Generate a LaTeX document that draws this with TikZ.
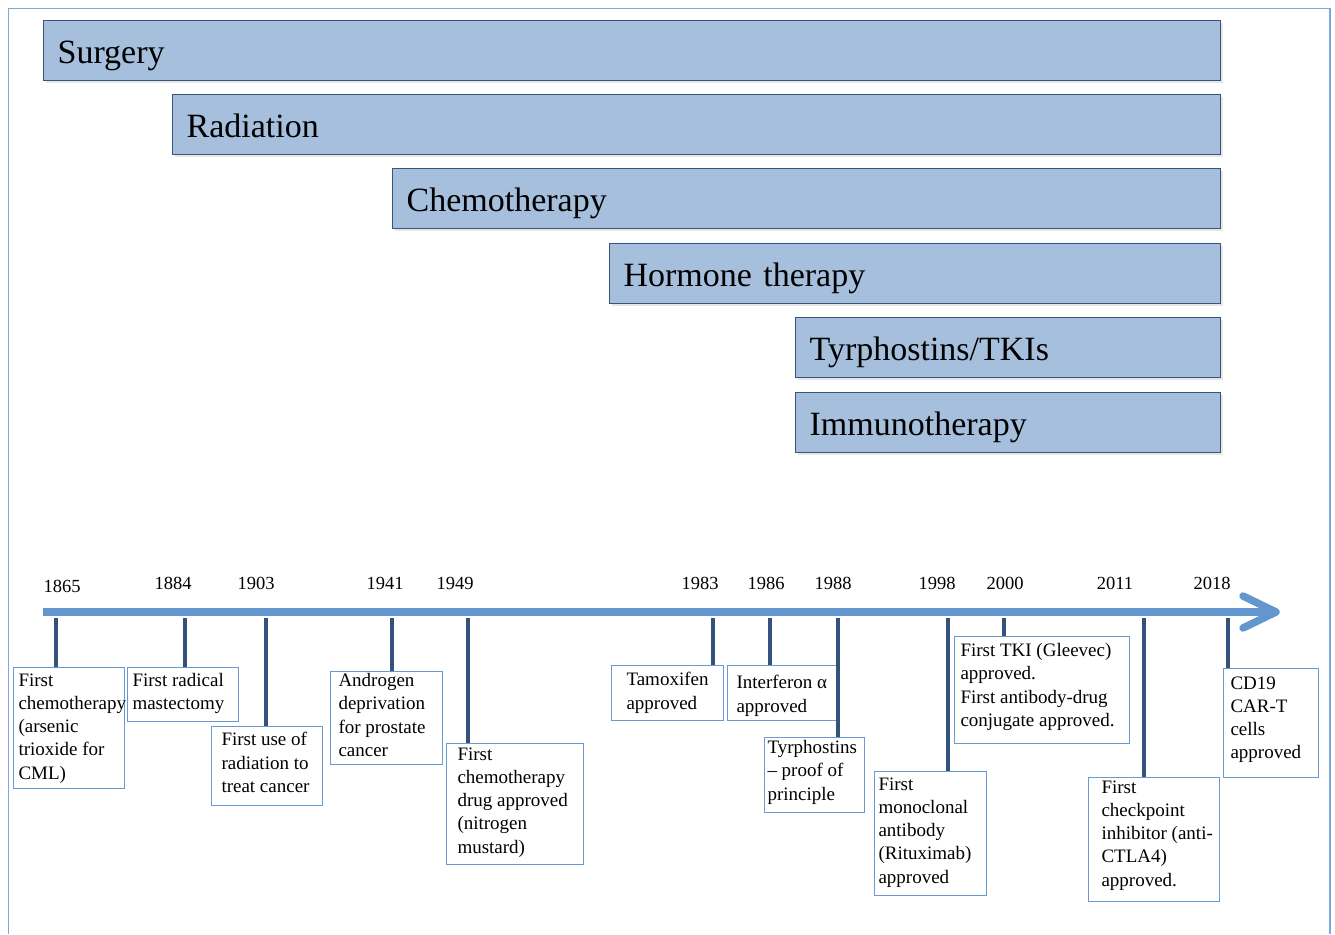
\documentclass[tikz,border=0pt]{standalone}
\usepackage{fontspec}
\setmainfont{Liberation Serif}
\usetikzlibrary{shadows}
\definecolor{barfill}{RGB}{166,191,221}
\definecolor{barline}{RGB}{56,84,122}
\definecolor{axisblue}{RGB}{98,150,204}
\definecolor{tickblue}{RGB}{52,82,124}
\definecolor{boxline}{RGB}{105,155,210}
\definecolor{framecol}{RGB}{125,168,216}
% event text: width, height, left inset, top inset, lines
\newcommand{\evtext}[5]{\parbox[t][#2pt][t]{#1pt}{\raggedright\leftskip=#3pt\relax\vspace*{#4pt}#5}}

\begin{document}
\begin{tikzpicture}[x=1pt,y=-1pt,
  therapy/.style={draw=barline,line width=1.2pt,fill=barfill,anchor=north west,
    minimum height=60pt,inner xsep=14pt,inner ysep=0pt,align=left,
    text height=30pt,text depth=4pt,
    font=\fontsize{34}{40}\selectfont,
    drop shadow={opacity=0.2,shadow xshift=2pt,shadow yshift=-2pt}},
  yearlbl/.style={font=\fontsize{18.5}{22}\selectfont,inner sep=0pt},
  evbox/.style={draw=boxline,line width=1pt,fill=white,anchor=north west,
    inner sep=0pt,font=\fontsize{19}{23.3}\selectfont},
  tick/.style={tickblue,line width=4pt},
  axis/.style={axisblue,line width=7.5pt}]
 \useasboundingbox (0,0) rectangle (1335,934);
 \draw[framecol,line width=1.5pt] (8.5,934) -- (8.5,8.5) -- (1330,8.5) -- (1330,934);
 % therapy bars
 \node[therapy,text width=1149pt] (surgery) at (43,20) {Surgery};
 \node[therapy,text width=1020pt] (radiation) at (172,94) {Radiation};
 \node[therapy,text width=800pt] (chemo) at (392,168) {Chemotherapy};
 \node[therapy,text width=583pt] (hormone) at (609,243) {Hormone therapy};
 \node[therapy,text width=397pt] (tki) at (795,317) {Tyrphostins/TKIs};
 \node[therapy,text width=397pt] (immuno) at (795,392) {Immunotherapy};
 % time axis
 \coordinate (axstart) at (43,612);
 \coordinate (axend) at (1270,612);
 \coordinate (axtip) at (1276,612);
 \draw[axis] (axstart) -- (axend);
 \draw[axis,line cap=round,line join=round]
   ([shift={(-33,-16)}]axtip) -- (axtip) -- ([shift={(-33,16)}]axtip);
 % events
 \node[evbox] (ev1865) at (13,667) {\evtext{111}{121}{5}{6}{First\\chemotherapy\\(arsenic\\trioxide for\\CML)}};
 \node[evbox] (ev1884) at (127,667) {\evtext{111}{54}{5}{6}{First radical\\mastectomy}};
 \node[evbox] (ev1903) at (211,726) {\evtext{111}{79}{10}{6}{First use of\\radiation to\\treat cancer}};
 \node[evbox] (ev1941) at (330,671) {\evtext{112}{93}{8}{2}{Androgen\\deprivation\\for prostate\\cancer}};
 \node[evbox] (ev1949) at (446,743) {\evtext{137}{121}{11}{4}{First\\chemotherapy\\drug approved\\(nitrogen\\mustard)}};
 \node[evbox] (ev1983) at (611,665) {\evtext{112}{55}{15}{7}{Tamoxifen\\approved}};
 \node[evbox] (ev1986) at (727,665) {\evtext{111}{55}{9}{10}{Interferon α\\approved}};
 \node[evbox] (ev1988) at (764,737) {\evtext{100}{75}{3}{3}{Tyrphostins\\– proof of\\principle}};
 \node[evbox] (ev1998) at (874,771) {\evtext{112}{124}{4}{6}{First\\monoclonal\\antibody\\(Rituximab)\\approved}};
 \node[evbox] (ev2000) at (954,636) {\evtext{175}{107}{6}{7}{First TKI (Gleevec)\\approved.\\First antibody-drug\\conjugate approved.}};
 \node[evbox] (ev2011) at (1088,777) {\evtext{131}{124}{13}{3}{First\\checkpoint\\inhibitor (anti-\\CTLA4)\\approved.}};
 \node[evbox] (ev2018) at (1223,668) {\evtext{95}{109}{7}{8}{CD19\\CAR-T\\cells\\approved}};
 % years and ticks
 \foreach \yr/\lx/\ly/\tx in {1865/62/586/56,1884/173/583/185,1903/256/583/266,
     1941/385/583/392,1949/455/583/468,1983/700/583/713,1986/766/583/770,
     1988/833/583/838,1998/937/583/948,2000/1005/583/1004,2011/1115/583/1144,
     2018/1212/583/1228}{
   \node[yearlbl] (yr\yr) at (\lx,\ly) {\yr};
   \coordinate (k\yr) at (\tx,618);
   \draw[tick] (k\yr) -- (k\yr |- ev\yr.north);
 }
\end{tikzpicture}
\end{document}
